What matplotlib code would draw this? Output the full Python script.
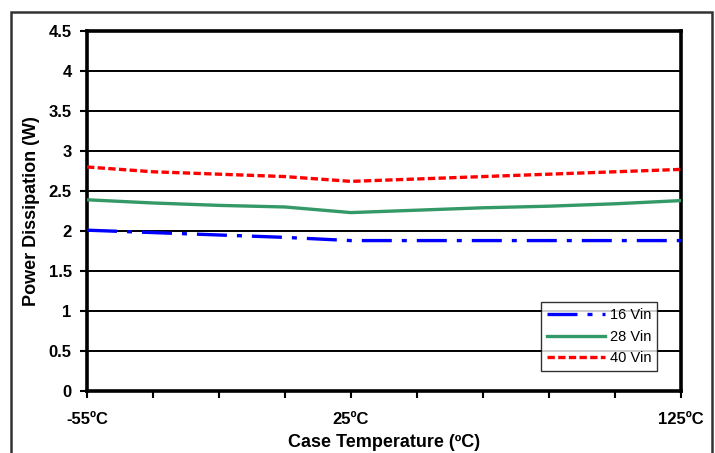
import matplotlib.pyplot as plt
from matplotlib.patches import Rectangle

# temperatures (ºC) and power dissipation (W)
temps = [-55, -35, -15, 5, 25, 45, 65, 85, 105, 125]
vin16 = [2.01, 1.98, 1.95, 1.92, 1.88, 1.88, 1.88, 1.88, 1.88, 1.88]
vin28 = [2.39, 2.35, 2.32, 2.30, 2.23, 2.26, 2.29, 2.31, 2.34, 2.38]
vin40 = [2.80, 2.74, 2.71, 2.68, 2.62, 2.65, 2.68, 2.71, 2.74, 2.77]
xtick_labels = ['-55ºC', '', '', '', '25ºC', '', '', '', '', '125ºC']

plt.rcParams['font.family'] = ['Liberation Sans', 'DejaVu Sans']

fig = plt.figure(figsize=(7.15, 4.53), dpi=100)
ax = fig.add_axes([0.1217, 0.1369, 0.8307, 0.7947])

# frame round the whole chart
frame = Rectangle((11 / 715, -0.1), 701 / 715, 1.1 - 12 / 453, transform=fig.transFigure,
                  fill=False, edgecolor='#333333', linewidth=1.8, clip_on=False)
fig.patches.append(frame)

for y in [0.5, 1, 1.5, 2, 2.5, 3, 3.5, 4]:
    ax.axhline(y, color='black', linewidth=1.4, zorder=1)

ax.plot(temps, vin16, color='#0000ff', linewidth=2.4, dashes=(9, 3, 1.5, 3), label='16 Vin', zorder=3)
ax.plot(temps, vin28, color='#339966', linewidth=2.4, label='28 Vin', zorder=3)
ax.plot(temps, vin40, color='#ff0000', linewidth=2.4, dashes=(2.2, 1), label='40 Vin', zorder=3)

ax.set_xlim(-55, 125)
ax.set_ylim(0, 4.5)
ax.set_xticks(temps)
ax.set_xticklabels(xtick_labels, fontsize=12, fontweight='bold')
ax.set_yticks([0, 0.5, 1, 1.5, 2, 2.5, 3, 3.5, 4, 4.5])
ax.set_yticklabels(['0', '0.5', '1', '1.5', '2', '2.5', '3', '3.5', '4', '4.5'],
                   fontsize=12, fontweight='bold')
ax.tick_params(axis='y', direction='out', length=5, width=1.5, pad=6)
ax.tick_params(axis='x', direction='out', length=5, width=1.5, pad=10)

for s in ax.spines.values():
    s.set_linewidth(2.6)
    s.set_color('black')

ax.set_xlabel('Case Temperature (ºC)', fontsize=13, fontweight='bold', labelpad=5)
ax.set_ylabel('Power Dissipation (W)', fontsize=13, fontweight='bold', labelpad=6)

leg = ax.legend(loc='lower right', bbox_to_anchor=(0.972, 0.036), fontsize=10.5,
                frameon=True, fancybox=False, handlelength=4.0, borderpad=0.4,
                labelspacing=0.5, handletextpad=0.3)
leg.get_frame().set_edgecolor('black')
leg.get_frame().set_linewidth(1.0)

fig.savefig('out.png', dpi=100)
